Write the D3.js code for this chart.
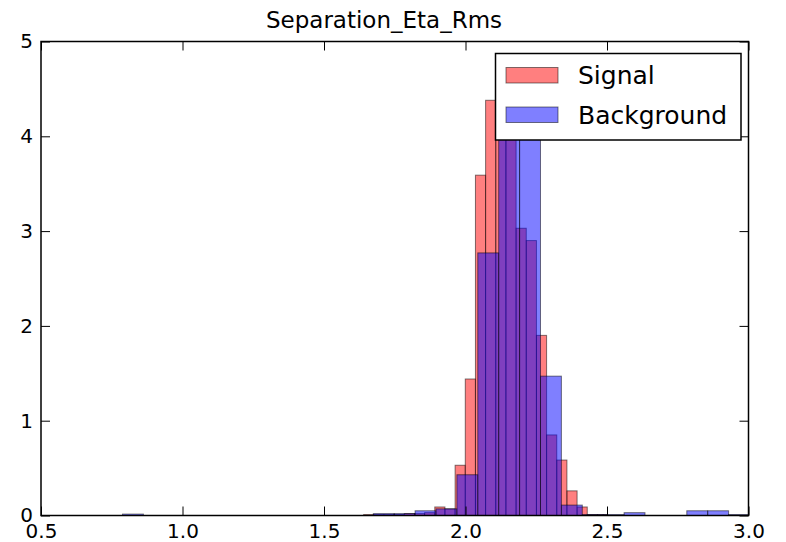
<!DOCTYPE html>
<html>
<head>
<meta charset="utf-8">
<script src="https://cdn.jsdelivr.net/npm/d3@7"></script>
<style>
  html, body { margin: 0; padding: 0; background: #fff; }
  svg { display: block; }
  text { font-family: "DejaVu Sans", sans-serif; fill: #000; }
</style>
</head>
<body>
<svg id="chart" width="786" height="542"></svg>
<script>
// ---- data ----
const title = "Separation_Eta_Rms";
const seriesNames = ["Signal", "Background"];

// Signal histogram: first bin edge, bin width, bin heights (normalised)
const sigStart = 1.640;
const sigWidth = 0.03592;
const sigValues = [0.01, 0.01, 0.01, 0.01, 0.02, 0.02, 0.03, 0.09, 0.07, 0.53,
                   1.44, 3.59, 4.38, 4.15, 4.00, 3.03, 2.90, 1.90, 0.85, 0.585,
                   0.26, 0.09, 0.01, 0.01];

// Background histogram
const bgStart = 0.788;
const bgWidth = 0.07385;
const bgValues = [0.015, 0, 0, 0, 0, 0, 0, 0, 0, 0,
                  0, 0, 0.02, 0.02, 0.05, 0.07, 0.43, 2.77, 4.30, 4.15,
                  1.47, 0.11, 0.01, 0.01, 0.03, 0, 0, 0.05, 0.05, 0.01];

const xTicks = [0.5, 1.0, 1.5, 2.0, 2.5, 3.0];
const yTicks = [0, 1, 2, 3, 4, 5];
const xDomain = [0.5, 3.0];
const yDomain = [0, 5];

// ---- layout ----
const svg = d3.select("#chart");
const L = 41, R = 748.5, T = 41.5, B = 515.5;

const x = d3.scaleLinear().domain(xDomain).range([L, R]);
const y = d3.scaleLinear().domain(yDomain).range([B, T]);

svg.append("defs").append("clipPath").attr("id", "clip")
  .append("rect").attr("x", L).attr("y", T).attr("width", R - L).attr("height", B - T);

function bins(start, width, values) {
  return values.map((v, i) => ({ x0: start + i * width, x1: start + (i + 1) * width, v }));
}

const plot = svg.append("g").attr("clip-path", "url(#clip)");

function drawHist(data, color) {
  plot.append("g").selectAll("rect")
    .data(data.filter(d => d.v > 0))
    .join("rect")
    .attr("x", d => x(d.x0))
    .attr("width", d => x(d.x1) - x(d.x0))
    .attr("y", d => y(d.v))
    .attr("height", d => y(0) - y(d.v))
    .attr("fill", color)
    .attr("fill-opacity", 0.5)
    .attr("stroke", "rgba(0,0,0,0.5)")
    .attr("stroke-width", 1);
}

drawHist(bins(sigStart, sigWidth, sigValues), "#ff0000");
drawHist(bins(bgStart, bgWidth, bgValues), "#0000ff");

// ---- axes (inward ticks on all four sides) ----
const tickLen = 9;
const fmt = d3.format(".1f");

const axB = svg.append("g").attr("transform", `translate(0,${B})`)
  .call(d3.axisBottom(x).tickValues(xTicks).tickSize(-tickLen).tickPadding(8).tickFormat(fmt));
const axT = svg.append("g").attr("transform", `translate(0,${T})`)
  .call(d3.axisTop(x).tickValues(xTicks).tickSize(-tickLen).tickFormat(""));
const axLft = svg.append("g").attr("transform", `translate(${L},0)`)
  .call(d3.axisLeft(y).tickValues(yTicks).tickSize(-tickLen).tickPadding(8).tickFormat(d3.format("d")));
const axRt = svg.append("g").attr("transform", `translate(${R},0)`)
  .call(d3.axisRight(y).tickValues(yTicks).tickSize(-tickLen).tickFormat(""));

[axB, axT, axLft, axRt].forEach(a => {
  a.select(".domain").remove();
  a.selectAll(".tick line").attr("stroke", "#000").attr("stroke-width", 1);
  a.selectAll(".tick text").style("font-size", "20px").style("font-family", "DejaVu Sans").attr("fill", "#000");
});

// frame
svg.append("rect").attr("x", L).attr("y", T).attr("width", R - L).attr("height", B - T)
  .attr("fill", "none").attr("stroke", "#000").attr("stroke-width", 1.5);

// title
svg.append("text").attr("x", 384).attr("y", 28)
  .attr("text-anchor", "middle").style("font-size", "23px").text(title);

// ---- legend ----
const lg = svg.append("g");
lg.append("rect").attr("x", 495.5).attr("y", 53.5).attr("width", 245.5).attr("height", 86.5)
  .attr("fill", "#fff").attr("stroke", "#000").attr("stroke-width", 1.5);
const legendColors = ["#ff0000", "#0000ff"];
const legendY = [67.5, 107];
seriesNames.forEach((name, i) => {
  lg.append("rect").attr("x", 506).attr("y", legendY[i]).attr("width", 52).attr("height", 15.5)
    .attr("fill", legendColors[i]).attr("fill-opacity", 0.5)
    .attr("stroke", "rgba(0,0,0,0.5)").attr("stroke-width", 1);
  lg.append("text").attr("x", 578).attr("y", legendY[i] + 16.5)
    .style("font-size", "25px").text(name);
});
</script>
</body>
</html>
